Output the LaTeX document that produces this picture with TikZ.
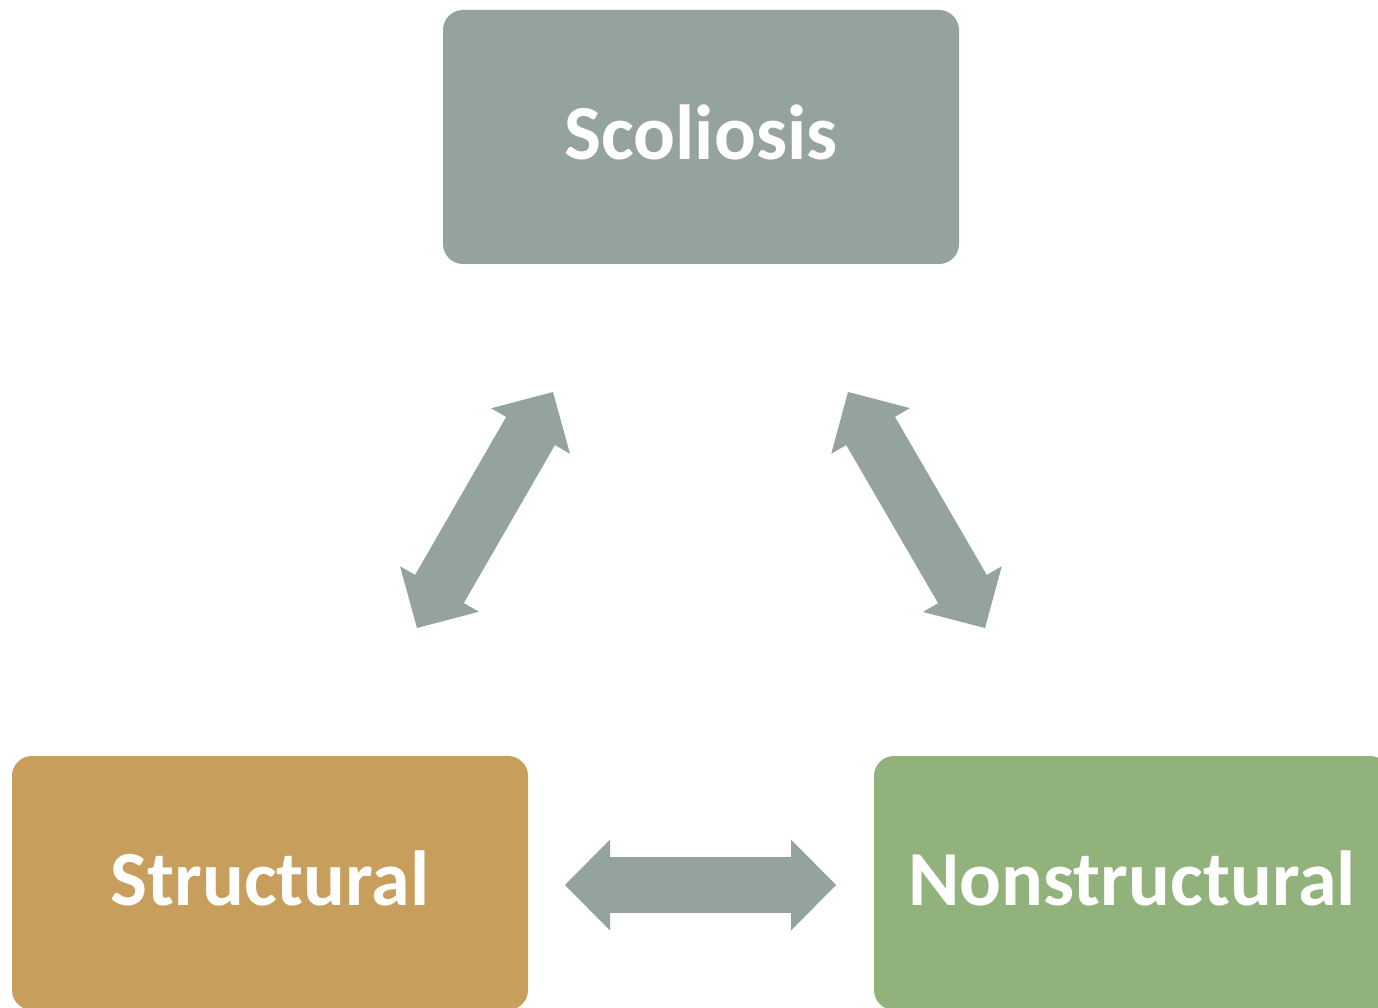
\documentclass[tikz,border=0pt]{standalone}
\usepackage{fontspec}
\setmainfont{Carlito}
\usetikzlibrary{arrows.meta,calc}
\definecolor{sage}{HTML}{94A39B}
\definecolor{tan}{HTML}{C89E5D}
\definecolor{leaf}{HTML}{92B27B}
\tikzset{
  box/.style={rounded corners=20pt, minimum width=516pt, minimum height=254pt,
    inner sep=0pt, text depth=9pt, text=white, font=\fontsize{78}{90}\selectfont\bfseries},
  blockarrow/.style={draw=sage, line width=56pt,
    {Triangle[length=45pt,width=91pt,line width=0pt]}-{Triangle[length=45pt,width=91pt,line width=0pt]}},
  shaftfill/.style={draw=sage, line width=56pt}
}
\begin{document}
\begin{tikzpicture}[x=1pt,y=-1pt]
\useasboundingbox (0,0) rectangle (1378,1008);
\clip (0,0) rectangle (1378,1008);
\node[box, fill=sage] (scol) at (701,137) {Scoliosis};
\node[box, fill=tan] (struct) at (270,883) {Structural};
\node[box, fill=leaf] (nonstruct) at (1132,883) {Nonstructural};
\coordinate (L1) at (417,628);
\coordinate (L2) at (553,392);
\coordinate (R1) at (848,392);
\coordinate (R2) at (985,628);
\coordinate (H1) at (565,885);
\coordinate (H2) at (836,885);
\draw[blockarrow] (L1) -- (L2);
\draw[shaftfill] ($(L1)!38pt!(L2)$) -- ($(L2)!38pt!(L1)$);
\draw[blockarrow] (R1) -- (R2);
\draw[shaftfill] ($(R1)!38pt!(R2)$) -- ($(R2)!38pt!(R1)$);
\draw[blockarrow] (H1) -- (H2);
\end{tikzpicture}
\end{document}
